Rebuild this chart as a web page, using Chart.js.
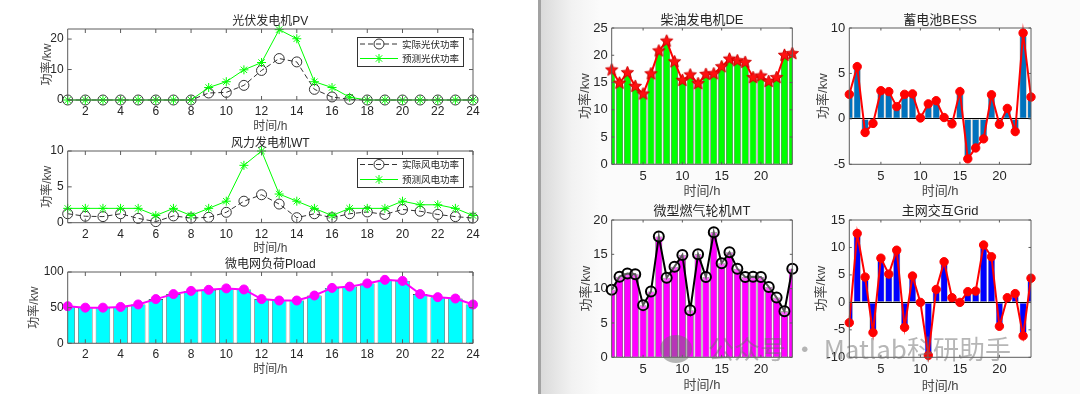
<html>
<head>
<meta charset="utf-8">
<script src="https://cdn.jsdelivr.net/npm/chart.js@4.4.0/dist/chart.umd.min.js"></script>
<style>
body { margin: 0; }
#fig {
    position: relative; width: 1080px; height: 394px; overflow: hidden;
    background: linear-gradient(to right, #fff 0, #fff 538px, #a2a2a2 538px, #a2a2a2 541px,
                #dadada 541px, #f2f2f2 572px, #fbfbfb 600px, #fbfbfb 100%);
}
#fig canvas { position: absolute; left: 0; top: 0; }
#mark {
    position: absolute; left: 660px; top: 330px; height: 36px; z-index: 5;
    font: 26px "Noto Sans CJK SC", sans-serif; color: rgba(110, 110, 110, 0.5);
    white-space: nowrap; line-height: 36px;
}
#mark .icon {
    display: inline-block; width: 32px; height: 28px; border-radius: 50%;
    background: rgba(110, 110, 110, 0.5); vertical-align: -4px; margin-right: 16px;
}
</style>
</head>
<body>
<div id="fig">
    <canvas id="pv" width="1080" height="394"></canvas>
    <canvas id="wt" width="1080" height="394"></canvas>
    <canvas id="load" width="1080" height="394"></canvas>
    <canvas id="de" width="1080" height="394"></canvas>
    <canvas id="bess" width="1080" height="394"></canvas>
    <canvas id="mt" width="1080" height="394"></canvas>
    <canvas id="grid" width="1080" height="394"></canvas>
    <div id="mark"><span class="icon"></span>公众号 · Matlab科研助手</div>
</div>
<script>
// ---- data ----
const hours = [1,2,3,4,5,6,7,8,9,10,11,12,13,14,15,16,17,18,19,20,21,22,23,24];

const pvActual   = [0,0,0,0,0,0,0,0,2.3,2.5,4.8,9.7,13.6,12.5,3.5,1.0,0.2,0,0,0,0,0,0,0];
const pvForecast = [0,0,0,0,0,0,0,0,4.1,6.0,9.9,12.3,23.1,20.1,6.0,4.1,0.9,0,0,0,0,0,0,0];

const wtActual   = [1.25,0.9,0.85,1.25,0.6,0.15,0.95,0.65,0.75,1.45,3.0,3.9,2.6,0.7,1.25,0.7,1.25,1.5,1.15,1.85,1.6,1.15,0.85,0.65];
const wtForecast = [2,2,2,2,2,1,2,1,2,3,8,10,4,3,2,1,2,2,2,3,2.5,2.5,2,1];

const pLoad = [52,50,50,51,54.5,62,69,73.5,75,77,75.5,62,60,60,67,77.7,79.5,84,89,87.5,69,64.7,62.8,54.4];
const pDE   = [17.3,14.9,16.8,14.3,12.9,16.6,20.8,22.6,18.8,15.4,16.4,14.8,16.5,16.6,17.9,19.3,19.0,18.7,15.9,16.2,15.2,15.9,20.0,20.3];
const pBESS = [2.7,5.75,-1.5,-0.5,3.1,3.0,1.35,2.7,2.75,0.1,1.65,2.0,0.15,-0.55,3.0,-4.4,-3.2,-2.2,2.65,-0.6,1.15,-1.4,9.45,2.4];
const pMT   = [9.85,11.75,12.2,12.1,7.6,9.6,17.6,11.6,13.2,14.9,6.85,15.0,11.7,18.2,13.7,15.3,12.9,11.7,11.75,11.7,10.25,8.7,6.7,12.9];
const pGrid = [-3.7,12.55,4.6,-5.5,8.05,5.15,9.5,-4.55,4.8,0,-9.65,2.35,7.4,0.85,0,1.95,2.05,10.45,8.3,-4.35,0.85,1.6,-6.1,4.4];

// tick labels
const xTicksLeft  = [2,4,6,8,10,12,14,16,18,20,22,24];
const xTicksRight = [5,10,15,20];
const yTicksPV   = [0,10,20];
const yTicksWT   = [0,5,10];
const yTicksLoad = [0,50,100];
const yTicksDE   = [0,5,10,15,20,25];
const yTicksBESS = [-5,0,5,10];
const yTicksMT   = [0,5,10,15,20];
const yTicksGrid = [-10,-5,0,5,10,15];

const FONT = '"Liberation Sans", "Noto Sans CJK SC", sans-serif';
const pts = arr => hours.map((h, i) => ({x: h, y: arr[i]}));

// MATLAB-like box with inward ticks
const mbox = {
    id: 'mbox',
    beforeDraw(chart) {
        const a = chart.chartArea, ctx = chart.ctx;
        ctx.save();
        ctx.fillStyle = '#fff';
        ctx.fillRect(a.left, a.top, a.width, a.height);
        ctx.restore();
    },
    afterDatasetsDraw(chart, args, opts) {
        const {ctx, chartArea: a, scales: {x, y}} = chart;
        const L = opts.tick || 3;
        ctx.save();
        ctx.strokeStyle = '#5c5c5c';
        ctx.lineWidth = 1;
        ctx.beginPath();
        x.ticks.forEach(t => {
            const px = x.getPixelForValue(t.value);
            ctx.moveTo(px, a.bottom); ctx.lineTo(px, a.bottom - L);
            ctx.moveTo(px, a.top); ctx.lineTo(px, a.top + L);
        });
        y.ticks.forEach(t => {
            const py = y.getPixelForValue(t.value);
            ctx.moveTo(a.left, py); ctx.lineTo(a.left + L, py);
            ctx.moveTo(a.right, py); ctx.lineTo(a.right - L, py);
        });
        ctx.rect(a.left, a.top, a.width, a.height);
        ctx.stroke();
        ctx.restore();
    }
};

// legend box inside the axes
const mlegend = {
    id: 'mlegend',
    afterDraw(chart, args, opts) {
        if (!opts.box) return;
        const ctx = chart.ctx;
        const [l, t, r, b] = opts.box;
        ctx.save();
        ctx.fillStyle = '#fff';
        ctx.fillRect(l, t, r - l, b - t);
        ctx.strokeStyle = '#333';
        ctx.lineWidth = 1;
        ctx.strokeRect(l + 0.5, t + 0.5, r - l, b - t);
        chart.data.datasets.forEach((ds, i) => {
            const y = opts.rows[i];
            ctx.strokeStyle = ds.borderColor;
            ctx.lineWidth = ds.borderWidth;
            ctx.setLineDash(ds.borderDash || []);
            ctx.beginPath(); ctx.moveTo(l + 3, y); ctx.lineTo(l + 41, y); ctx.stroke();
            ctx.setLineDash([]);
            ctx.fillStyle = ds.pointBackgroundColor;
            ctx.strokeStyle = ds.pointBorderColor;
            ctx.lineWidth = ds.pointBorderWidth;
            Chart.helpers.drawPoint(ctx, {pointStyle: ds.pointStyle, radius: ds.pointRadius,
                rotation: 0, borderWidth: ds.pointBorderWidth}, l + 22, y);
            ctx.fillStyle = '#262626';
            ctx.font = '9.5px "Noto Sans CJK SC"';
            ctx.textBaseline = 'middle';
            ctx.fillText(ds.label, l + 45, y);
        });
        ctx.restore();
    }
};
Chart.register(mbox, mlegend);

function pentagram(r, color) {
    const c = document.createElement('canvas');
    const s = Math.ceil(2 * r + 2);
    c.width = c.height = s;
    const g = c.getContext('2d');
    g.beginPath();
    for (let k = 0; k < 10; k++) {
        const rad = k % 2 ? r * 0.45 : r;
        const ang = -Math.PI / 2 + k * Math.PI / 5;
        g.lineTo(s / 2 + rad * Math.cos(ang), s / 2 + rad * Math.sin(ang));
    }
    g.closePath();
    g.fillStyle = color; g.fill();
    g.strokeStyle = '#d00000'; g.lineWidth = 1; g.stroke();
    return c;
}

function panel(id, o) {
    const W = 1080, H = 394;
    const [left, right, top, bottom] = o.area;
    const fs = o.fs;
    return new Chart(document.getElementById(id), {
        type: o.type,
        data: {datasets: o.datasets},
        options: {
            responsive: false,
            animation: false,
            events: [],
            layout: {padding: {left: left - o.yW, right: W - right, top: o.titleY - 7, bottom: H - bottom - o.xH}},
            plugins: {
                legend: {display: false},
                tooltip: {enabled: false},
                title: {display: true, text: o.title, fullSize: false, color: '#262626',
                        font: {family: FONT, size: fs, weight: 'normal', lineHeight: '14px'},
                        padding: {top: 0, bottom: top - o.titleY - 7}},
                mbox: {tick: o.tick},
                mlegend: o.legend || {}
            },
            scales: {
                x: {
                    type: 'linear', min: 1, max: 24, offset: false,
                    afterFit: s => { s.height = o.xH; },
                    afterBuildTicks: s => { s.ticks = o.xTicks.map(v => ({value: v})); },
                    grid: {display: false, drawTicks: false},
                    border: {display: false},
                    ticks: {padding: o.xPad, color: '#262626', maxRotation: 0,
                            font: {family: FONT, size: fs, lineHeight: '14px'}},
                    title: {display: true, text: '时间/h', color: '#444', padding: {top: 0, bottom: 0},
                            font: {family: FONT, size: fs, lineHeight: '14px'}}
                },
                y: {
                    min: o.yMin, max: o.yMax,
                    afterFit: s => { s.width = o.yW; },
                    afterBuildTicks: s => { s.ticks = o.yTicks.map(v => ({value: v})); },
                    grid: {display: !!o.zeroLine, drawTicks: false,
                           color: c => (c.tick && c.tick.value === 0) ? '#000' : 'rgba(0,0,0,0)'},
                    border: {display: false},
                    ticks: {padding: 4, color: '#262626',
                            font: {family: FONT, size: fs, lineHeight: '14px'}},
                    title: {display: true, text: '功率/kw', color: '#444', padding: {top: o.yTitlePad, bottom: 0},
                            font: {family: FONT, size: fs, lineHeight: '14px'}}
                }
            }
        }
    });
}

function barSet(arr, fill, edge, width) {
    return {type: 'bar', data: pts(arr), backgroundColor: fill, borderColor: edge, borderWidth: 0.6,
            borderSkipped: false, categoryPercentage: 1, barPercentage: width || 0.82, clip: 0};
}
function lineSet(arr, o) {
    return Object.assign({type: 'line', data: pts(arr), fill: false, tension: 0, clip: false}, o);
}

// ---- left column ----
panel('pv', {
    type: 'line', title: '光伏发电机PV', area: [67.7, 473, 29, 100], titleY: 22,
    yW: 60, xH: 34, xPad: 4.5, yTitlePad: 32.5, fs: 12, tick: 4,
    xTicks: xTicksLeft, yTicks: yTicksPV, yMin: 0, yMax: 23.3,
    legend: {box: [357, 37, 463, 66], rows: [44, 58.5]},
    datasets: [
        lineSet(pvActual, {label: '实际光伏功率', order: 1, borderColor: '#333', borderWidth: 1, borderDash: [5, 3],
            pointStyle: 'circle', pointRadius: 5, pointBorderWidth: 1, pointBorderColor: '#333',
            pointBackgroundColor: 'rgba(0,0,0,0)'}),
        lineSet(pvForecast, {label: '预测光伏功率', order: 0, borderColor: '#00ff00', borderWidth: 1,
            pointStyle: 'star', pointRadius: 4.5, pointBorderWidth: 1, pointBorderColor: '#00ff00',
            pointBackgroundColor: '#00ff00'})
    ]
});

panel('wt', {
    type: 'line', title: '风力发电机WT', area: [67.7, 473, 151, 222.7], titleY: 144,
    yW: 60, xH: 33.3, xPad: 4.5, yTitlePad: 33, fs: 12, tick: 4,
    xTicks: xTicksLeft, yTicks: yTicksWT, yMin: 0, yMax: 10,
    legend: {box: [357, 158, 463, 187], rows: [164.5, 179.5]},
    datasets: [
        lineSet(wtActual, {label: '实际风电功率', order: 1, borderColor: '#333', borderWidth: 1, borderDash: [5, 3],
            pointStyle: 'circle', pointRadius: 5, pointBorderWidth: 1, pointBorderColor: '#333',
            pointBackgroundColor: 'rgba(0,0,0,0)'}),
        lineSet(wtForecast, {label: '预测风电功率', order: 0, borderColor: '#00ff00', borderWidth: 1,
            pointStyle: 'star', pointRadius: 4.5, pointBorderWidth: 1, pointBorderColor: '#00ff00',
            pointBackgroundColor: '#00ff00'})
    ]
});

panel('load', {
    type: 'bar', title: '微电网负荷Pload', area: [67.7, 473, 272, 343.3], titleY: 265,
    yW: 60, xH: 33.7, xPad: 4.5, yTitlePad: 19.5, fs: 12, tick: 4,
    xTicks: xTicksLeft, yTicks: yTicksLoad, yMin: 0, yMax: 100,
    datasets: [
        lineSet(pLoad, {borderColor: '#ff00ff', borderWidth: 2, pointStyle: 'circle', pointRadius: 4.5,
            pointBorderWidth: 1, pointBorderColor: '#ff00ff', pointBackgroundColor: '#ff00ff'}),
        barSet(pLoad, '#00ffff', '#222')
    ]
});

// ---- right column ----
panel('de', {
    type: 'bar', title: '柴油发电机DE', area: [611.7, 792.3, 28, 164.3], titleY: 20,
    yW: 40, xH: 34.4, xPad: 5.5, yTitlePad: 6.3, fs: 13, tick: 2.5,
    xTicks: xTicksRight, yTicks: yTicksDE, yMin: 0, yMax: 25,
    datasets: [
        lineSet(pDE, {borderColor: '#ff0000', borderWidth: 2, pointStyle: pentagram(6.5, '#ff1010'),
            pointRadius: 6}),
        barSet(pDE, '#00ff00', '#222', 0.88)
    ]
});

panel('bess', {
    type: 'bar', title: '蓄电池BESS', area: [849.3, 1031, 28, 164.3], titleY: 20,
    yW: 40, xH: 34.4, xPad: 5.5, yTitlePad: 6.7, fs: 13, tick: 2.5, zeroLine: true,
    xTicks: xTicksRight, yTicks: yTicksBESS, yMin: -5, yMax: 10,
    datasets: [
        lineSet(pBESS, {borderColor: '#ff0000', borderWidth: 2, pointStyle: 'circle', pointRadius: 4.2,
            pointBorderWidth: 1, pointBorderColor: '#ff0000', pointBackgroundColor: '#ff0000'}),
        barSet(pBESS, '#0072bd', '#999', 0.9)
    ]
});

panel('mt', {
    type: 'bar', title: '微型燃气轮机MT', area: [611.7, 792.3, 220, 357.3], titleY: 211.5,
    yW: 40, xH: 35.4, xPad: 5.5, yTitlePad: 7.3, fs: 13, tick: 2.5,
    xTicks: xTicksRight, yTicks: yTicksMT, yMin: 0, yMax: 20,
    datasets: [
        lineSet(pMT, {borderColor: '#000', borderWidth: 2, pointStyle: 'circle', pointRadius: 5,
            pointBorderWidth: 2, pointBorderColor: '#000', pointBackgroundColor: 'rgba(255,255,255,0.35)'}),
        barSet(pMT, '#ff00ff', '#222', 0.88)
    ]
});

panel('grid', {
    type: 'bar', title: '主网交互Grid', area: [849.3, 1031, 220, 357.3], titleY: 211.5,
    yW: 40, xH: 36, xPad: 5.5, yTitlePad: 5.4, fs: 13, tick: 2.5, zeroLine: true,
    xTicks: xTicksRight, yTicks: yTicksGrid, yMin: -10, yMax: 15,
    datasets: [
        lineSet(pGrid, {borderColor: '#ff0000', borderWidth: 2, pointStyle: 'circle', pointRadius: 4.2,
            pointBorderWidth: 1, pointBorderColor: '#ff0000', pointBackgroundColor: '#ff0000'}),
        barSet(pGrid, '#0000ff', '#999', 0.9)
    ]
});
</script>
</body>
</html>
